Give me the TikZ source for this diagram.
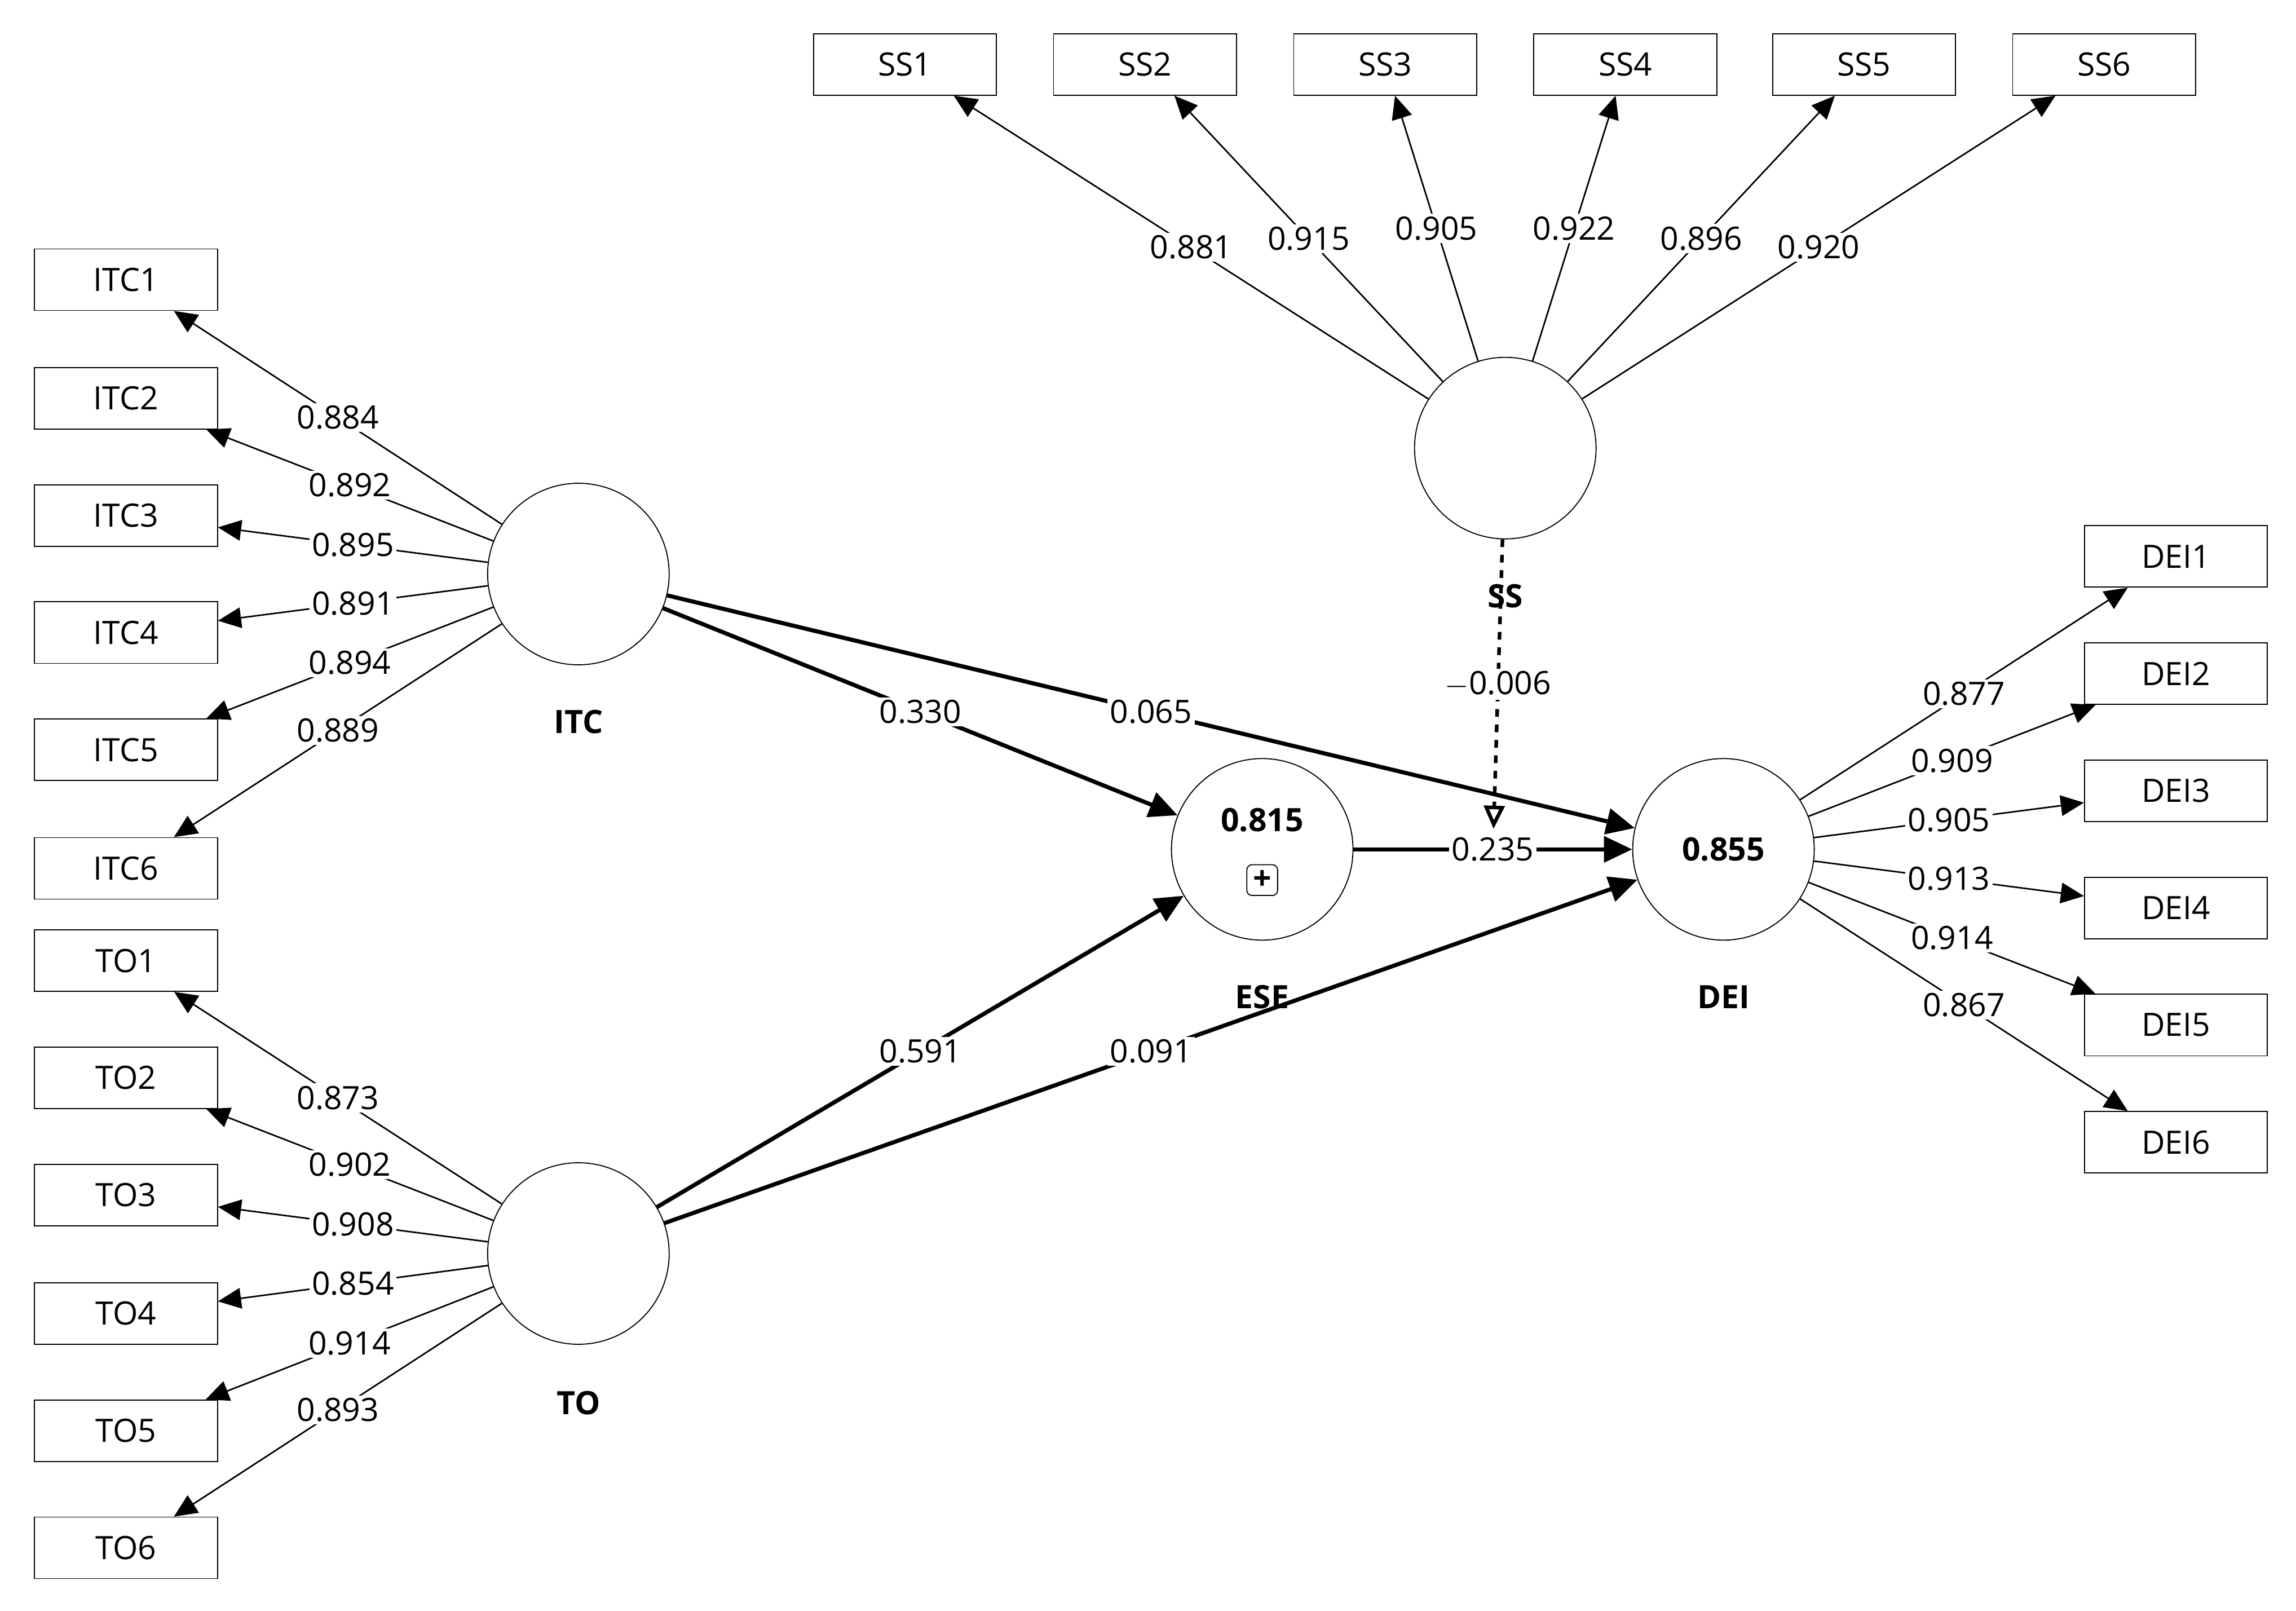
\documentclass[tikz,border=0pt]{standalone}
\usepackage{fontspec}
\setmainfont{Open Sans}
\usetikzlibrary{arrows.meta,positioning}

\tikzset{
  lv/.style={circle,draw,minimum size=2.48cm,inner sep=0pt},
  mv/.style={draw,minimum width=2.5cm,minimum height=0.84cm,inner sep=0pt},
  ld/.style={-{Triangle[length=9pt,width=8pt]},line width=0.6pt},
  pth/.style={-{Triangle[length=11pt,width=10pt]},line width=1.6pt},
  wt/.style={fill=white,inner sep=1pt},
  nm/.style={font=\fontsize{12.5}{14}\selectfont\bfseries}
}

\begin{document}
\begin{tikzpicture}[x=0.02cm,y=-0.02cm,font=\fontsize{12.5}{14}\selectfont]
\useasboundingbox (0,0) rectangle (1568,1100);

% latent variables
\node[lv] (ITC) at (395,392) {};
\node[lv] (TO) at (395,856) {};
\node[lv] (SS) at (1028,306) {};
\node[lv] (ESE) at (862,580) {};
\node[lv] (DEI) at (1177,580) {};
\node[nm] at (395,493) {ITC};
\node[nm] at (395,958) {TO};
\node[nm] at (1028,407) {SS};
\node[nm] at (862,681) {ESE};
\node[nm] at (1177,681) {DEI};
\node[nm] at (862,560) {0.815};
\node[draw,rounded corners=2pt,minimum size=0.42cm,inner sep=0pt] at (862,601) {\textbf{+}};
\node[nm] at (1177,580) {0.855};

% indicators
\foreach \i/\y/\w in {1/191/0.884,2/272/0.892,3/352/0.895,4/432/0.891,5/512/0.894,6/593/0.889}{
  \node[mv] (ITC\i) at (86,\y) {ITC\i};
  \draw[ld] (ITC) -- node[wt,pos=0.5] {\w} (ITC\i);
}
\foreach \i/\y/\w in {1/656/0.873,2/736/0.902,3/816/0.908,4/897/0.854,5/977/0.914,6/1057/0.893}{
  \node[mv] (TO\i) at (86,\y) {TO\i};
  \draw[ld] (TO) -- node[wt,pos=0.5] {\w} (TO\i);
}
\foreach \i/\x/\w in {1/618/0.881,2/782/0.915,3/946/0.905,4/1110/0.922,5/1273/0.896,6/1437/0.920}{
  \node[mv] (SS\i) at (\x,44) {SS\i};
  \draw[ld] (SS) -- node[wt,pos=0.5] {\w} (SS\i);
}
\foreach \i/\y/\w in {1/380/0.877,2/460/0.909,3/540/0.905,4/620/0.913,5/700/0.914,6/780/0.867}{
  \node[mv] (DEI\i) at (1486,\y) {DEI\i};
  \draw[ld] (DEI) -- node[wt,pos=0.5] {\w} (DEI\i);
}

% structural paths
\draw[pth] (ITC) -- node[wt,pos=0.5] {0.330} (ESE);
\draw[pth] (ITC) -- node[wt,pos=0.5] {0.065} (DEI);
\draw[pth] (TO) -- node[wt,pos=0.5] {0.591} (ESE);
\draw[pth] (TO) -- node[wt,pos=0.5] {0.091} (DEI);
\draw[pth] (ESE) -- node[wt,pos=0.5] {0.235} (DEI);
\coordinate (mod) at (1020,566);
\draw[-{Triangle[open,length=9pt,width=8pt]},line width=1.4pt,dashed] (SS) -- node[wt,pos=0.5] {$-$0.006} (mod);

\end{tikzpicture}
\end{document}
